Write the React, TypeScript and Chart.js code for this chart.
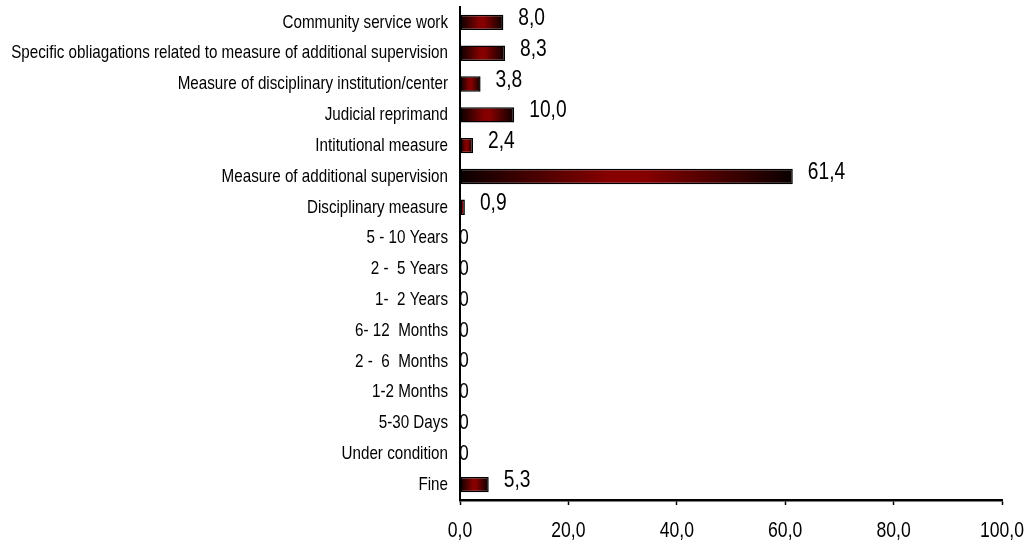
import React, { useEffect, useRef } from "react";
import { Chart, registerables } from "chart.js";

Chart.register(...registerables);

const categories: string[] = [
  "Community service work",
  "Specific obliagations related to measure of additional supervision",
  "Measure of disciplinary institution/center",
  "Judicial reprimand",
  "Intitutional measure",
  "Measure of additional supervision",
  "Disciplinary measure",
  "5 - 10 Years",
  "2 -  5 Years",
  "1-  2 Years",
  "6- 12  Months",
  "2 -  6  Months",
  "1-2 Months",
  "5-30 Days",
  "Under condition",
  "Fine",
];

const values: number[] = [8.0, 8.3, 3.8, 10.0, 2.4, 61.4, 0.9, 0, 0, 0, 0, 0, 0, 0, 0, 5.3];

const xTicks: number[] = [0, 20, 40, 60, 80, 100];

const FONT = '"Liberation Sans", Arial, sans-serif';
const SQUEEZE = 0.8;

const fmt = (v: number) => v.toFixed(1).replace(".", ",");

function narrowText(ctx: CanvasRenderingContext2D, text: string, x: number, y: number, align: CanvasTextAlign) {
  ctx.save();
  ctx.translate(x, y);
  ctx.scale(SQUEEZE, 1);
  ctx.textAlign = align;
  ctx.fillText(text, 0, 0);
  ctx.restore();
}

const textPlugin = {
  id: "narrowTexts",
  afterDraw(chart: any) {
    const ctx = chart.ctx as CanvasRenderingContext2D;
    const xs = chart.scales.x;
    const ys = chart.scales.y;
    ctx.save();
    ctx.fillStyle = "#000";
    ctx.textBaseline = "middle";

    // category labels
    ctx.font = `19px ${FONT}`;
    categories.forEach((c, i) => {
      narrowText(ctx, c, ys.right - 12, ys.getPixelForValue(i), "right");
    });

    // x tick labels
    ctx.font = `22px ${FONT}`;
    xTicks.forEach((v) => {
      narrowText(ctx, fmt(v), xs.getPixelForValue(v), xs.top + 31, "center");
    });

    // value labels
    const meta = chart.getDatasetMeta(0);
    meta.data.forEach((el: any, i: number) => {
      const v = values[i];
      if (v === 0) {
        ctx.font = `22px ${FONT}`;
        narrowText(ctx, "0", el.x - 1, el.y, "left");
      } else {
        ctx.font = `24px ${FONT}`;
        narrowText(ctx, fmt(v), el.x + 15, el.y - 4, "left");
      }
    });
    ctx.restore();
  },
};

export default function App() {
  const ref = useRef<HTMLCanvasElement | null>(null);

  useEffect(() => {
    if (!ref.current) return;
    const chart = new Chart(ref.current, {
      type: "bar",
      data: {
        labels: categories,
        datasets: [
          {
            data: values,
            backgroundColor: (c: any) => {
              const ch = c.chart;
              if (!ch.chartArea || !ch.scales.x) return "#800000";
              const xs = ch.scales.x;
              const x0 = xs.getPixelForValue(0);
              const x1 = xs.getPixelForValue(c.raw as number);
              if (x1 - x0 < 1) return "#800000";
              const g = ch.ctx.createLinearGradient(x0, 0, x1, 0);
              g.addColorStop(0, "#0a0000");
              g.addColorStop(0.45, "#870000");
              g.addColorStop(0.55, "#870000");
              g.addColorStop(1, "#0a0000");
              return g;
            },
            borderColor: "#000",
            borderWidth: 1.5,
            borderSkipped: false,
            barPercentage: 0.5,
            categoryPercentage: 1,
          },
        ],
      },
      options: {
        indexAxis: "y",
        responsive: false,
        animation: false,
        layout: { padding: { top: 7, right: 29, left: 0, bottom: 0 } },
        plugins: {
          legend: { display: false },
          tooltip: { enabled: false },
        },
        scales: {
          x: {
            min: 0,
            max: 100,
            afterBuildTicks: (s: any) => {
              s.ticks = xTicks.map((v) => ({ value: v }));
            },
            ticks: { display: false },
            grid: {
              drawOnChartArea: false,
              drawTicks: true,
              tickLength: 5,
              tickColor: "#000",
              tickWidth: 1.5,
            },
            border: { display: true, color: "#000", width: 2.5 },
            afterFit: (s: any) => {
              s.height = 54;
            },
          },
          y: {
            ticks: { display: false },
            grid: { drawOnChartArea: false, drawTicks: false },
            border: { display: true, color: "#000", width: 2 },
            afterFit: (s: any) => {
              s.width = 460;
            },
          },
        },
      },
      plugins: [textPlugin],
    });
    return () => chart.destroy();
  }, []);

  return (
    <div style={{ position: "fixed", left: 0, top: 0, width: 1031, height: 554, background: "#fff" }}>
      <canvas ref={ref} width={1031} height={554} style={{ width: 1031, height: 554 }} />
    </div>
  );
}
